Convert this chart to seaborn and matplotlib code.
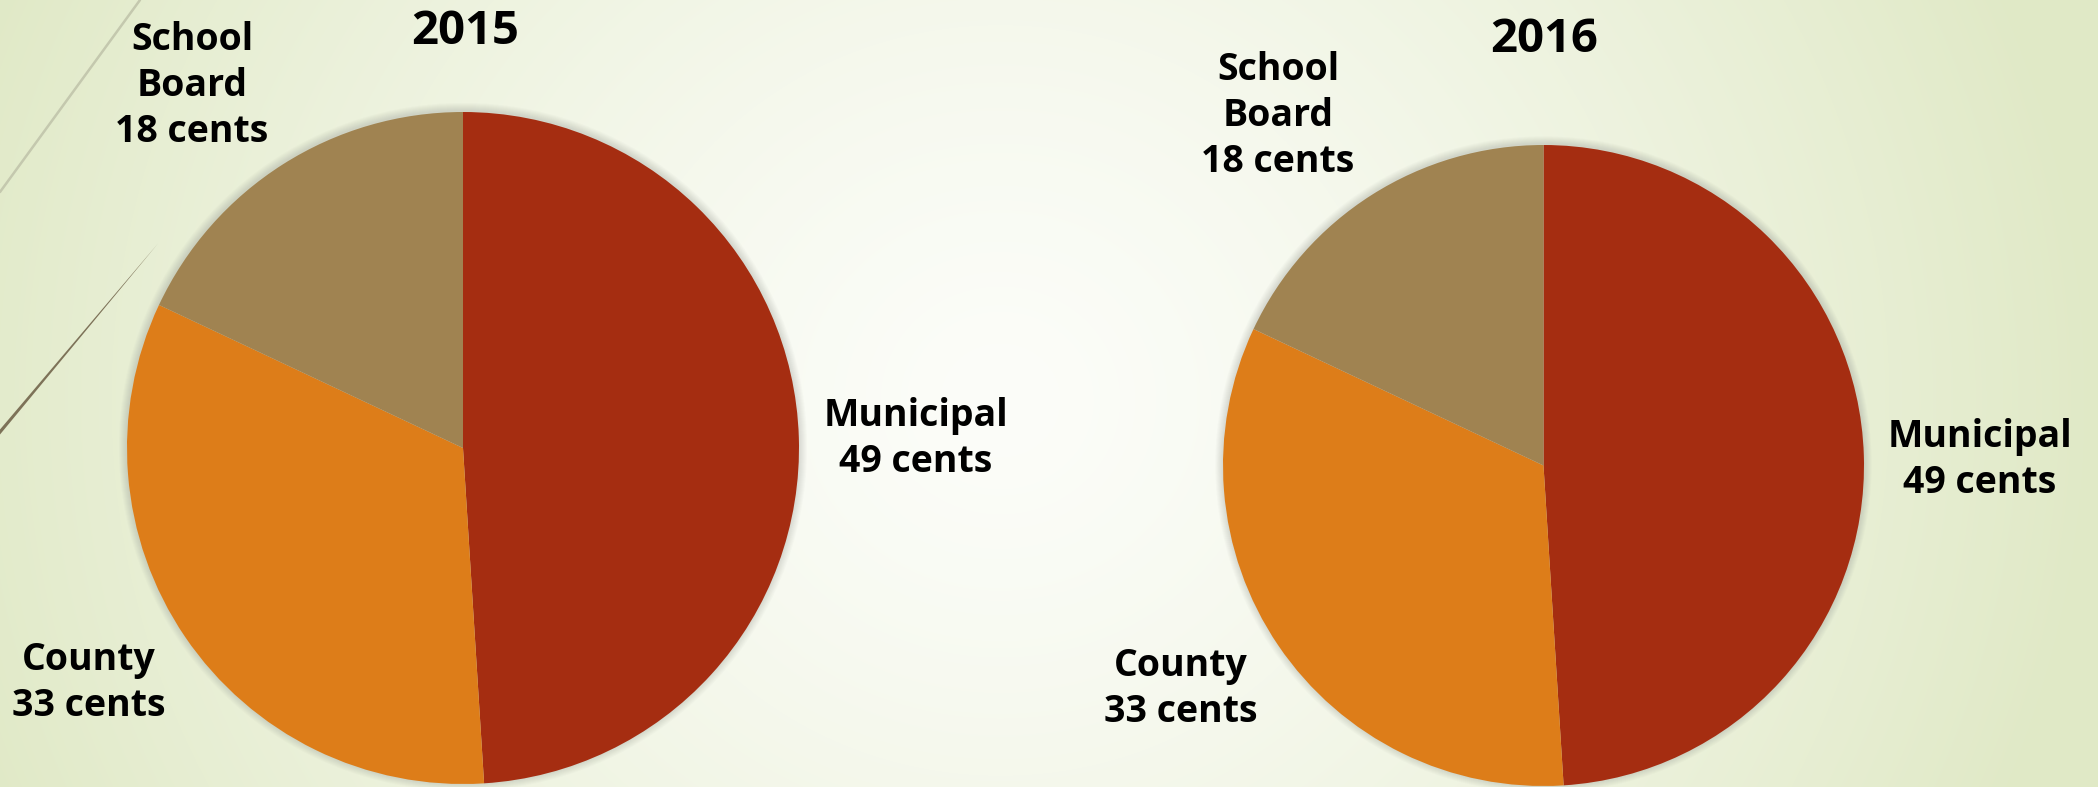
import numpy as np
import matplotlib
matplotlib.use("Agg")
import matplotlib.pyplot as plt
import seaborn as sns
from matplotlib.patches import Circle, Polygon

# ---------------- data ----------------
years = ["2015", "2016"]
categories = ["Municipal", "County", "School Board"]
values_2015 = [49, 33, 18]
values_2016 = [49, 33, 18]
unit = "cents"
colors = ["#A52D11", "#DD7D19", "#A08351"]

# ---------------- layout (pixels) ----------------
W, H = 2098, 787
pie_geom = [(463, 448, 336), (1543.5, 465.5, 320.5)]          # cx, cy, R
title_pos = [(465, 44.3), (1544.5, 51.7)]                      # baseline
label_pos = [                                                   # last-line baseline
    [(916, 472), (89, 716), (192, 142)],
    [(1980, 492.7), (1181, 722), (1278, 171.7)],
]

sns.set_theme(style="white")
plt.rcParams["font.family"] = ["Open Sans", "DejaVu Sans"]
palette = sns.color_palette(colors)

fig = plt.figure(figsize=(W / 100, H / 100), dpi=100)

# background gradient
bg = fig.add_axes([0, 0, 1, 1])
yy, xx = np.mgrid[0:H, 0:W]
d = np.hypot(xx - 1000, (yy - 400) * 1.05)
t = np.clip(d / 1100, 0, 1) ** 1.35
white = np.array([252, 253, 249]) / 255
edge = np.array([224, 233, 198]) / 255
img = white[None, None, :] * (1 - t[..., None]) + edge[None, None, :] * t[..., None]
bg.imshow(img, extent=(0, W, H, 0), aspect="auto", interpolation="bilinear")
bg.set_xlim(0, W)
bg.set_ylim(H, 0)
bg.axis("off")

# decorative strokes at left
bg.plot([0, 140], [192, 0], color="#C4C8AE", lw=1.8, solid_capstyle="round")
bg.add_patch(Polygon([[0, 429.5], [158, 243.5], [0, 434.5]], closed=True,
                     facecolor="#7D7258", edgecolor="none"))

series = [values_2015, values_2016]
for i, (vals, (cx, cy, R)) in enumerate(zip(series, pie_geom)):
    pad = 1.06
    ax = fig.add_axes([(cx - pad * R) / W, 1 - (cy + pad * R) / H,
                       2 * pad * R / W, 2 * pad * R / H])
    # soft shadow
    for k in range(1, 9):
        ax.add_patch(Circle((0, 0.003), 1 + k * 0.003, facecolor="#555555",
                            alpha=0.025, edgecolor="none", zorder=0))
    wedges, _ = ax.pie(vals, colors=palette, startangle=90, counterclock=False,
                       radius=1, wedgeprops=dict(linewidth=0))
    for w_ in wedges:
        w_.set_zorder(2)
    ax.set_xlim(-pad, pad)
    ax.set_ylim(-pad, pad)
    ax.set_aspect("auto")
    ax.axis("off")

    tx, ty = title_pos[i]
    bg.text(tx, ty, years[i], ha="center", va="baseline", fontsize=34,
            fontweight="bold", color="black")
    for cat, v, (lx, ly) in zip(categories, vals, label_pos[i]):
        lab = cat.replace(" ", "\n") + f"\n{v} {unit}"
        bg.text(lx, ly, lab, ha="center", va="baseline", multialignment="center",
                fontsize=27, fontweight="bold", color="black", linespacing=1.27)

fig.savefig("out.png", dpi=100)
